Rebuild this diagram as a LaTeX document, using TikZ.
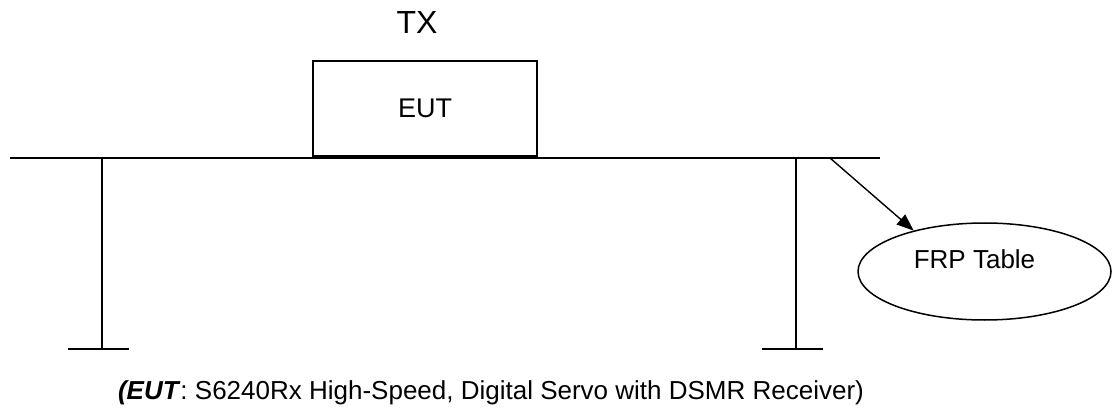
\documentclass[tikz,border=0pt]{standalone}
\usepackage{fontspec}
\setmainfont{Liberation Sans}
\usetikzlibrary{shapes.geometric,arrows.meta}
\begin{document}
\begin{tikzpicture}[x=1pt,y=-1pt,
    leg/.style={line width=1.4pt},
    foot/.style={line width=2pt}]
    \useasboundingbox (0,0) rectangle (1112,417);
    \coordinate(tl)at(10,158);\coordinate(tr)at(880,158);
    \node[font=\fontsize{32}{38}\selectfont] (tx) at (417,22) {TX};
    \node[rectangle,draw,line width=2pt,minimum width=224pt,minimum height=95pt,font=\fontsize{27}{32}\selectfont] (eut) at (425,108.5) {EUT};
    \node[ellipse,draw,line width=1.5pt,inner sep=0pt,minimum width=253pt,minimum height=97pt,text height=19pt,text depth=24pt,font=\fontsize{26}{31}\selectfont] (frp) at (984.5,271.5) {FRP Table\hspace*{20pt}};
    \coordinate(ll)at(102,158);\coordinate(lf)at(102,349);
    \coordinate(rl)at(796,158);\coordinate(rf)at(796,349);
    \coordinate(a)at(830,158);
    \draw [line width=2pt] (tl) -- (tr);
    \draw [leg] (ll) -- (lf) (rl) -- (rf);
    \draw [foot] ([xshift=-34pt]lf) -- ([xshift=27pt]lf) ([xshift=-34pt]rf) -- ([xshift=27pt]rf);
    \draw [line width=1.4pt,-{Triangle[length=17pt,width=13pt]}] (a) -- (frp.150);
    \node[font=\fontsize{26}{31}\selectfont] (cap) at (491,393) {\textbf{\textit{(EUT}}: S6240Rx High-Speed, Digital Servo with DSMR Receiver)};
\end{tikzpicture}
\end{document}
